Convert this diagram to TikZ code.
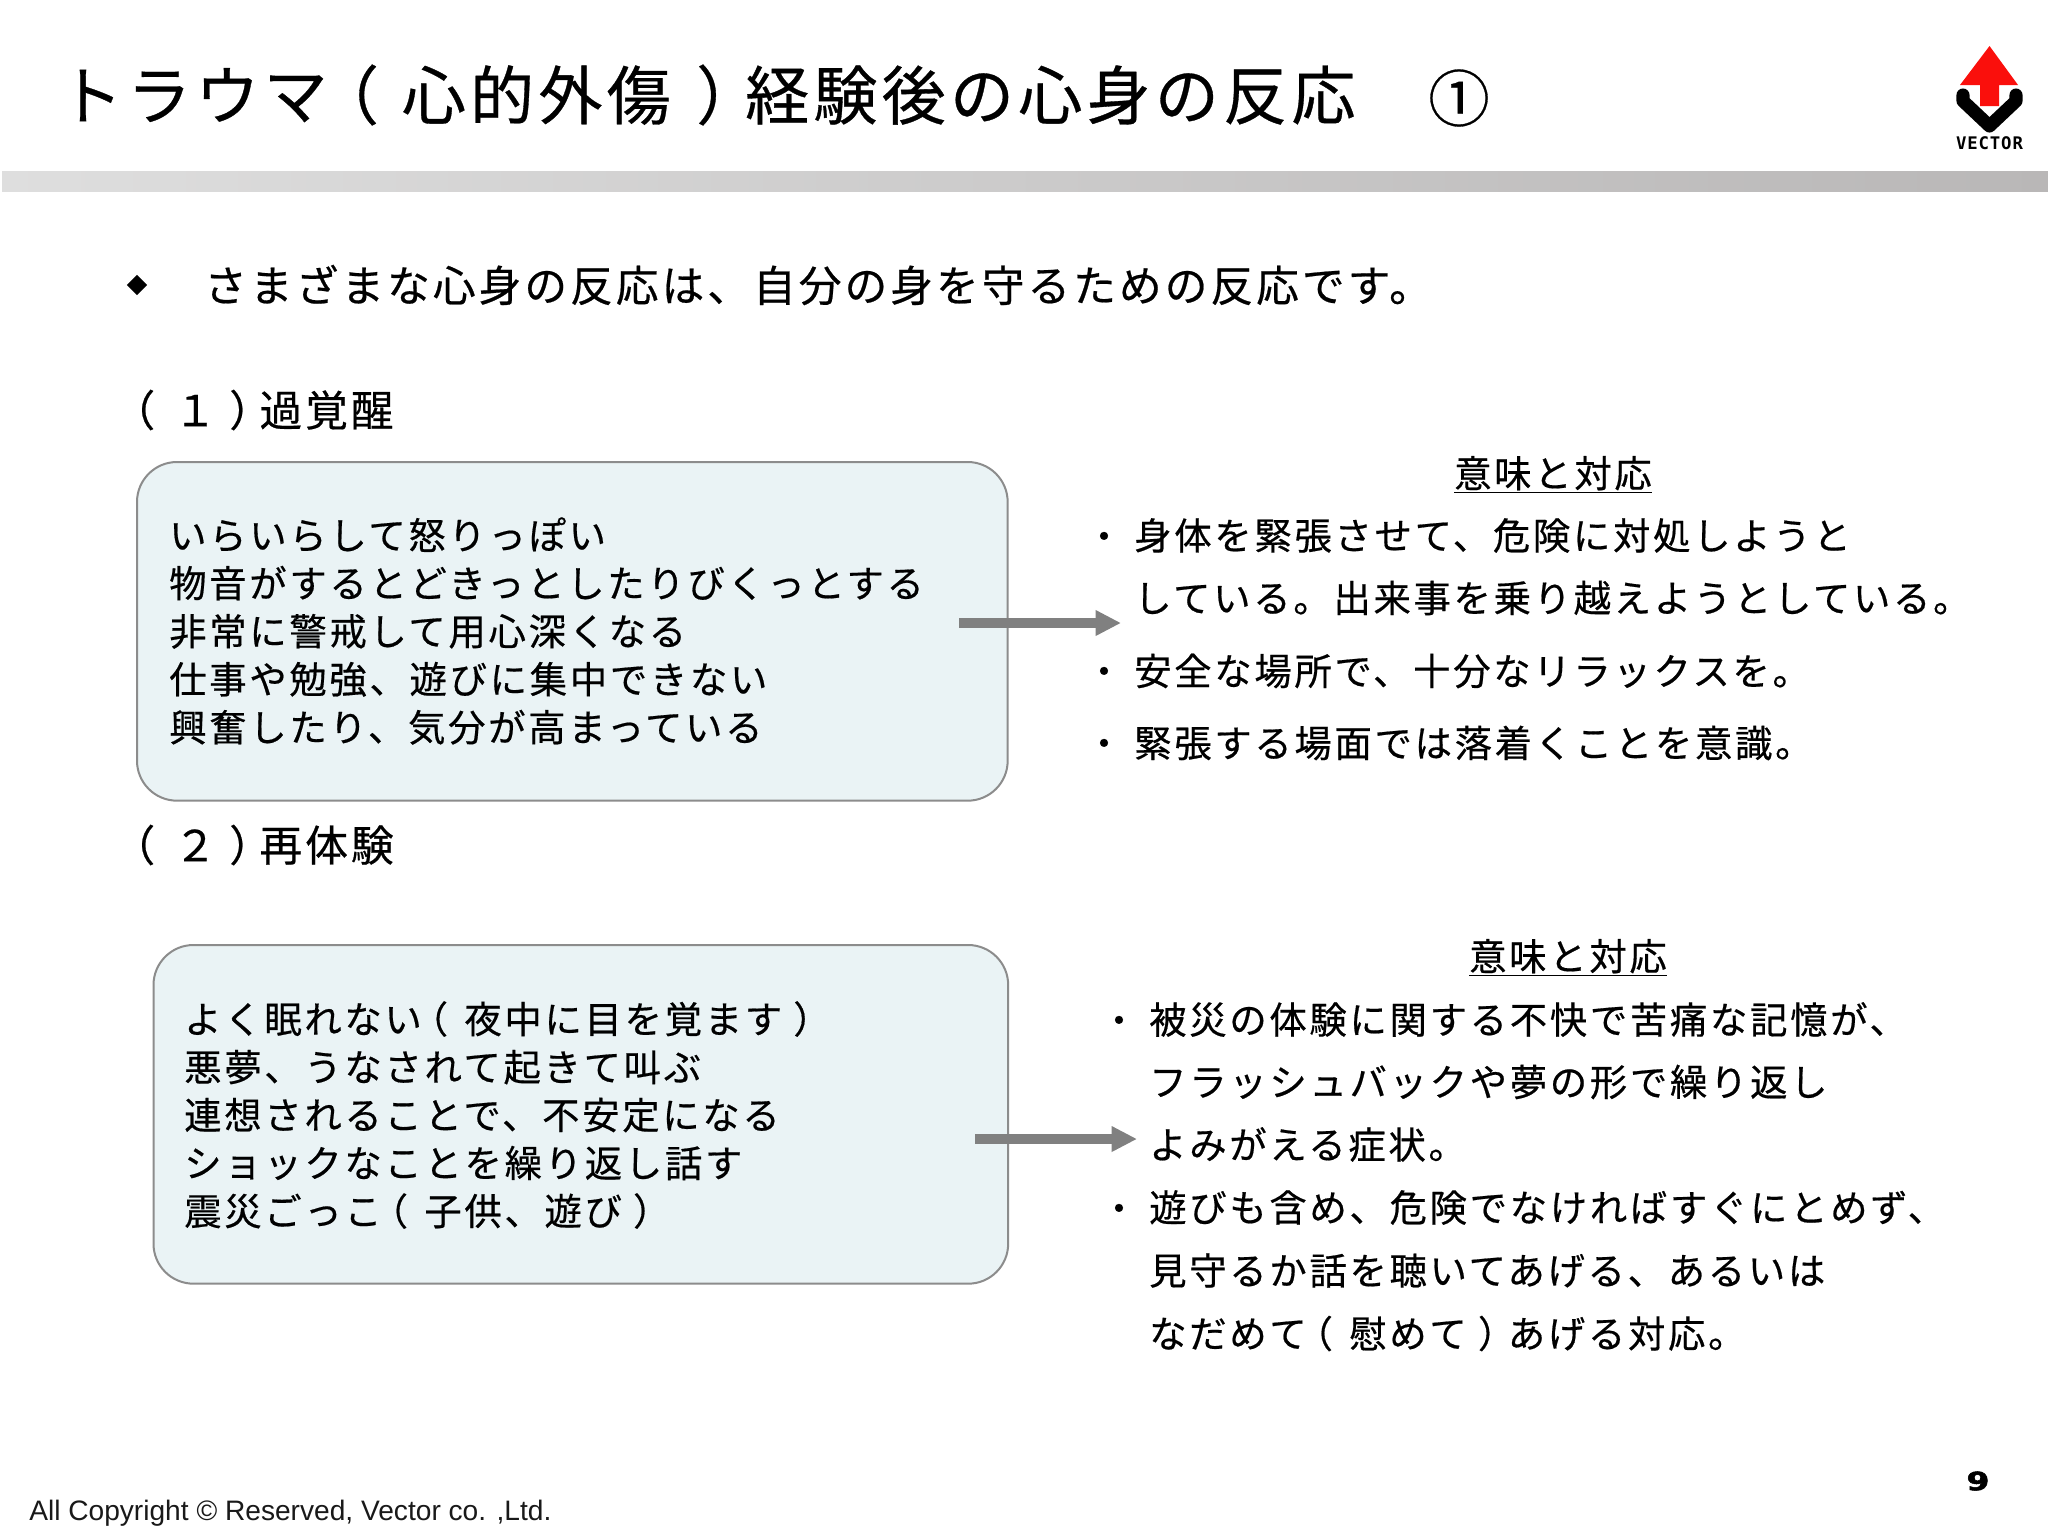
\documentclass[tikz,border=0pt]{standalone}
\usepackage{fontspec}
\usetikzlibrary{arrows.meta,shapes.geometric}
\setmainfont{Liberation Sans}
\newfontfamily\jpTitle[LetterSpace=6.7,FakeBold=0.5]{Noto Sans CJK JP}
\newfontfamily\jpBig[LetterSpace=7.2,FakeBold=0.5]{Noto Sans CJK JP}
\newfontfamily\jpBody[LetterSpace=7.3,FakeBold=0.5]{Noto Sans CJK JP}
\newfontfamily\logofont[LetterSpace=5]{DejaVu Sans Mono Bold}
\newfontfamily\numfont[FakeBold=2]{DejaVu Sans Bold}
\newcommand{\LP}{\kern-.3em（\kern.44em}
\newcommand{\RP}{\kern.3em）\kern-.2em}
\definecolor{barL}{HTML}{DEDEDE}
\definecolor{barR}{HTML}{B9B7B7}
\definecolor{boxfill}{HTML}{EAF3F5}
\definecolor{boxline}{HTML}{8C8C8C}
\definecolor{arrowgray}{HTML}{808080}
\definecolor{logored}{HTML}{FA0F0C}
\tikzset{
  x=.75pt,y=-.75pt,
  titletext/.style={anchor=west,inner sep=0pt,font=\jpTitle\fontsize{48pt}{54pt}\selectfont},
  bigtext/.style={anchor=west,inner sep=0pt,font=\jpBig\fontsize{32pt}{40pt}\selectfont},
  bodytext/.style={anchor=west,inner sep=0pt,align=left,font=\jpBody\fontsize{28pt}{36pt}\selectfont},
  headtext/.style={inner sep=0pt,font=\jpBody\fontsize{28pt}{36pt}\selectfont},
  panel/.style={draw=boxline,line width=1.5pt,fill=boxfill,rounded corners=30pt,inner sep=0pt,anchor=north west},
  flow/.style={draw=arrowgray,line width=6.8pt,-{Triangle[length=19pt,width=18pt]}},
}
\begin{document}
\begin{tikzpicture}
\useasboundingbox (0,0) rectangle (2048,1536);
\fill[white] (0,0) rectangle (2048,1536);
% header bar
\shade[left color=barL,right color=barR] (2,171) rectangle (2048,191);
% title
\node[titletext] (title) at (58.5,95) {トラウマ\kern-.2em（\kern.34em\kern1pt 心的外傷\kern.4em）\kern-.3em\kern3pt 経験後の心身の反応};
\node[inner sep=0pt,font=\jpTitle\fontsize{46pt}{54pt}\selectfont] (circled) at (1459,98) {①};
% logo
\fill[logored] (1989.5,46) -- (2018,85) -- (1999,85) -- (1999,106) -- (1980,106) -- (1980,85) -- (1960,85) -- cycle;
\draw[black,line width=9.8pt,line join=round,line cap=round] (1963,95) -- (1963,101) -- (1989.5,126) -- (2016,101) -- (2016,95);
\node[inner sep=0pt,font=\logofont\fontsize{13pt}{14pt}\selectfont] (logotext) at (1989.5,143) {VECTOR};
% lead line
\node[diamond,fill=black,inner sep=0pt,minimum width=15.5pt,minimum height=15.5pt] (leadmark) at (137,285) {};
\node[bigtext] (lead) at (204,285) {さまざまな心身の反応は、自分の身を守るための反応です。};
% section 1
\node[bigtext] (sec1) at (125,410) {\LP １\RP\kern-3pt 過覚醒};
\node[panel,minimum width=653pt,minimum height=254pt] (box1) at (136,461) {};
\node[bodytext] (box1text) at (169,631) {いらいらして怒りっぽい\\物音がするとどきっとしたりびくっとする\\非常に警戒して用心深くなる\\仕事や勉強、遊びに集中できない\\興奮したり、気分が高まっている};
\coordinate (arrow1a) at (959,623);
\coordinate (arrow1b) at (1121,623);
\draw[flow] (arrow1a) -- (arrow1b);
\node[headtext] (head1) at (1553,474.5) {\underline{意味と対応}};
\node[headtext] (b11) at (1104,541) {・};
\node[bodytext] (r11) at (1134,535.5) {身体を緊張させて、危険に対処しようと};
\node[bodytext] (r12) at (1134,598) {している。出来事を乗り越えようとしている。};
\node[headtext] (b12) at (1104,676) {・};
\node[bodytext] (r13) at (1134,671) {安全な場所で、十分なリラックスを。};
\node[headtext] (b13) at (1104,748) {・};
\node[bodytext] (r14) at (1134,743) {緊張する場面では落着くことを意識。};
% section 2
\node[bigtext] (sec2) at (125,845) {\LP ２\RP\kern-3pt 再体験};
\node[panel,minimum width=641pt,minimum height=254pt] (box2) at (152.5,944) {};
\node[bodytext] (box2text) at (184,1115) {よく眠れない\LP 夜中に目を覚ます\RP\\悪夢、うなされて起きて叫ぶ\\連想されることで、不安定になる\\ショックなことを繰り返し話す\\震災ごっこ\LP 子供、遊び\RP};
\coordinate (arrow2a) at (975,1139);
\coordinate (arrow2b) at (1137,1139);
\draw[flow] (arrow2a) -- (arrow2b);
\node[headtext] (head2) at (1568,957.5) {\underline{意味と対応}};
\node[headtext] (b21) at (1119,1025) {・};
\node[bodytext] (r21) at (1149,1019.5) {被災の体験に関する不快で苦痛な記憶が、};
\node[bodytext] (r22) at (1149,1082) {フラッシュバックや夢の形で繰り返し};
\node[bodytext] (r23) at (1149,1144.5) {よみがえる症状。};
\node[headtext] (b22) at (1119,1213) {・};
\node[bodytext] (r24) at (1149,1207.5) {遊びも含め、危険でなければすぐにとめず、};
\node[bodytext] (r25) at (1149,1270.5) {見守るか話を聴いてあげる、あるいは};
\node[bodytext] (r26) at (1149,1333.5) {なだめて\LP 慰めて\RP あげる対応。};
% footer
\node[anchor=base west,inner sep=0pt,font=\fontsize{21.1pt}{24pt}\selectfont,text=black!90] (copy) at (29,1520) {All Copyright © Reserved, Vector co. ,Ltd.};
\node[inner sep=0pt,font=\numfont\fontsize{19pt}{20pt}\selectfont] (pageno) at (1978,1481) {\scalebox{1.3}[1]{9}};
\end{tikzpicture}
\end{document}
